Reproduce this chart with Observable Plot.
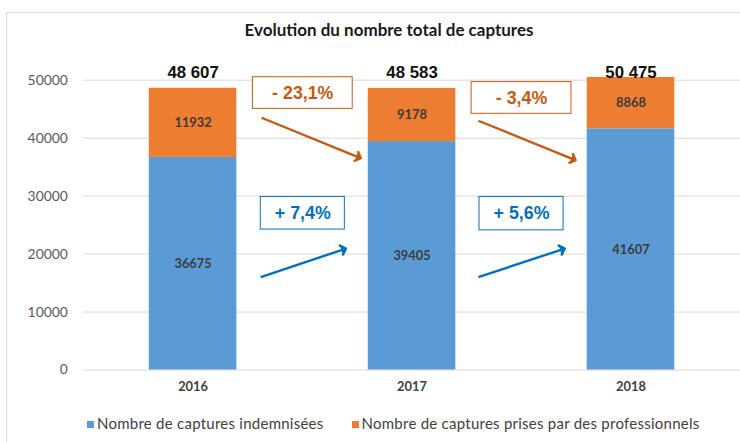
<!DOCTYPE html>
<html>
<head>
<meta charset="utf-8">
<script src="https://cdn.jsdelivr.net/npm/d3@7"></script>
<script src="https://cdn.jsdelivr.net/npm/@observablehq/plot@0.6"></script>
<style>
  html, body { margin: 0; padding: 0; background: #fff; overflow: hidden; width: 740px; height: 442px; }
  #wrap { position: relative; width: 740px; height: 442px; overflow: hidden; }
  #border { position: absolute; left: 6px; top: 12px; width: 800px; height: 500px; border: 1px solid #d9d9d9; }
  #title { position: absolute; top: 19px; left: 0; width: 778px; text-align: center; font: bold 17px Lato, sans-serif; color: #1a1a1a; }
  #chart { position: absolute; top: 50px; left: 0; }
  #legend { position: absolute; top: 414px; left: 87px; font: 15px Lato, sans-serif; letter-spacing: 0.25px; color: #404040; white-space: nowrap; }
  #legend span.sw { display: inline-block; width: 7px; height: 7px; margin-right: 3px; vertical-align: 1px; }
  #legend span.item { margin-right: 28px; }
</style>
</head>
<body>
<div id="wrap">
  <div id="border"></div>
  <div id="title">Evolution du nombre total de captures</div>
  <div id="chart"></div>
  <div id="legend"></div>
</div>
<script>
// ---- Data ----
const years = [2016, 2017, 2018];
const indemnisees = [36675, 39405, 41607];
const professionnels = [11932, 9178, 8868];
const seriesNames = ["Nombre de captures indemnisées", "Nombre de captures prises par des professionnels"];
const seriesColors = ["#5B9BD5", "#ED7D31"];
const yTicks = [0, 10000, 20000, 30000, 40000, 50000];

// Annotation placement (data units: year position, value)
const annoSeries = ["pro", "pro", "ind", "ind"];
const annoFrom = [0, 1, 0, 1]; // index of starting year
const annoBoxX1 = [2016.273, 2017.272, 2016.309, 2017.308];
const annoBoxX2 = [2016.729, 2017.728, 2016.693, 2017.692];
const annoBoxY1 = [45051, 44198, 24232, 24100];
const annoBoxY2 = [50512, 49659, 29863, 29863];
const annoArrowX1 = [2016.313, 2017.303, 2016.309, 2017.303];
const annoArrowX2 = [2016.756, 2017.737, 2016.688, 2017.687];
const annoArrowY1 = [43515, 43003, 16041, 16041];
const annoArrowY2 = [36689, 36348, 20819, 20819];
const annoColors = { pro: "#C55A11", ind: "#0070C0" };

// ---- Derived tables ----
const segments = [];
years.forEach((yr, i) => {
  segments.push({ year: yr, series: seriesNames[0], y1: 0, y2: indemnisees[i], value: indemnisees[i] });
  segments.push({ year: yr, series: seriesNames[1], y1: indemnisees[i], y2: indemnisees[i] + professionnels[i], value: professionnels[i] });
});
const totals = years.map((yr, i) => ({ year: yr, total: indemnisees[i] + professionnels[i] }));
const fmtTotal = n => d3.format(",")(n).replace(/,/g, " ");
const fmtPct = v => (v >= 0 ? "+ " : "- ") + Math.abs(v * 100).toFixed(1).replace(".", ",") + "%";

const annos = annoSeries.map((s, k) => {
  const arr = s === "pro" ? professionnels : indemnisees;
  const i = annoFrom[k];
  const change = arr[i + 1] / arr[i] - 1;
  return {
    label: fmtPct(change),
    color: annoColors[s],
    bx1: annoBoxX1[k], bx2: annoBoxX2[k], by1: annoBoxY1[k], by2: annoBoxY2[k],
    ax1: annoArrowX1[k], ax2: annoArrowX2[k], ay1: annoArrowY1[k], ay2: annoArrowY2[k]
  };
});

const halfBar = 0.2;

const chart = Plot.plot({
  width: 748,
  height: 355,
  marginTop: 30,
  marginBottom: 32,
  marginLeft: 84,
  marginRight: 0,
  style: { background: "transparent", overflow: "visible" },
  x: { type: "linear", domain: [2015.5, 2018.5] },
  y: { domain: [0, 50000] },
  color: { domain: seriesNames, range: seriesColors },
  marks: [
    Plot.gridY(yTicks, { stroke: "#d9d9d9", strokeOpacity: 1, strokeWidth: 1 }),
    Plot.axisY(yTicks, { tickSize: 0, tickPadding: 16, tickFormat: d3.format("d"), fontSize: 14, fill: "#595959", fontFamily: "Lato, sans-serif", label: null }),
    Plot.axisX(years, { tickSize: 0, tickPadding: 12, tickFormat: d3.format("d"), fontSize: 13, fontWeight: "bold", fill: "#404040", fontFamily: "Lato, sans-serif", label: null }),
    Plot.rectY(segments, { x1: d => d.year - halfBar, x2: d => d.year + halfBar, y1: "y1", y2: "y2", fill: "series" }),
    Plot.text(segments, { x: "year", y: d => (d.y1 + d.y2) / 2, text: d => String(d.value), fill: "#3b3b3b", fontSize: 13, fontWeight: "bold", fontFamily: "Lato, sans-serif" }),
    Plot.text(totals, { x: "year", frameAnchor: "top", text: d => fmtTotal(d.total), lineAnchor: "bottom", dy: -2, fill: "#111", fontSize: 17, fontWeight: "bold", fontFamily: "Liberation Sans, Arial, sans-serif" }),
    Plot.rect(annos, { x1: "bx1", x2: "bx2", y1: "by1", y2: "by2", fill: "white", stroke: d => d.color, strokeWidth: 1 }),
    Plot.text(annos, { x: d => (d.bx1 + d.bx2) / 2, y: d => (d.by1 + d.by2) / 2, text: "label", fill: d => d.color, fontSize: 18, fontWeight: "bold", fontFamily: "Liberation Sans, Arial, sans-serif" }),
    Plot.link(annos, { x1: "ax1", y1: "ay1", x2: "ax2", y2: "ay2", stroke: d => d.color, strokeWidth: 2.4, markerEnd: "arrow" })
  ]
});
// make the arrow markers solid triangles like the original
chart.querySelectorAll("marker path").forEach(p => {
  const c = p.getAttribute("stroke") || p.parentNode.getAttribute("stroke");
  if (c) p.setAttribute("fill", c);
});
chart.querySelectorAll("marker").forEach(m => {
  const c = m.getAttribute("stroke");
  if (c) m.setAttribute("fill", c);
});
document.getElementById("chart").appendChild(chart);

// Legend
const legend = document.getElementById("legend");
seriesNames.forEach((name, i) => {
  const item = document.createElement("span");
  item.className = "item";
  const sw = document.createElement("span");
  sw.className = "sw";
  sw.style.background = seriesColors[i];
  item.appendChild(sw);
  item.appendChild(document.createTextNode(name));
  legend.appendChild(item);
});
</script>
</body>
</html>
